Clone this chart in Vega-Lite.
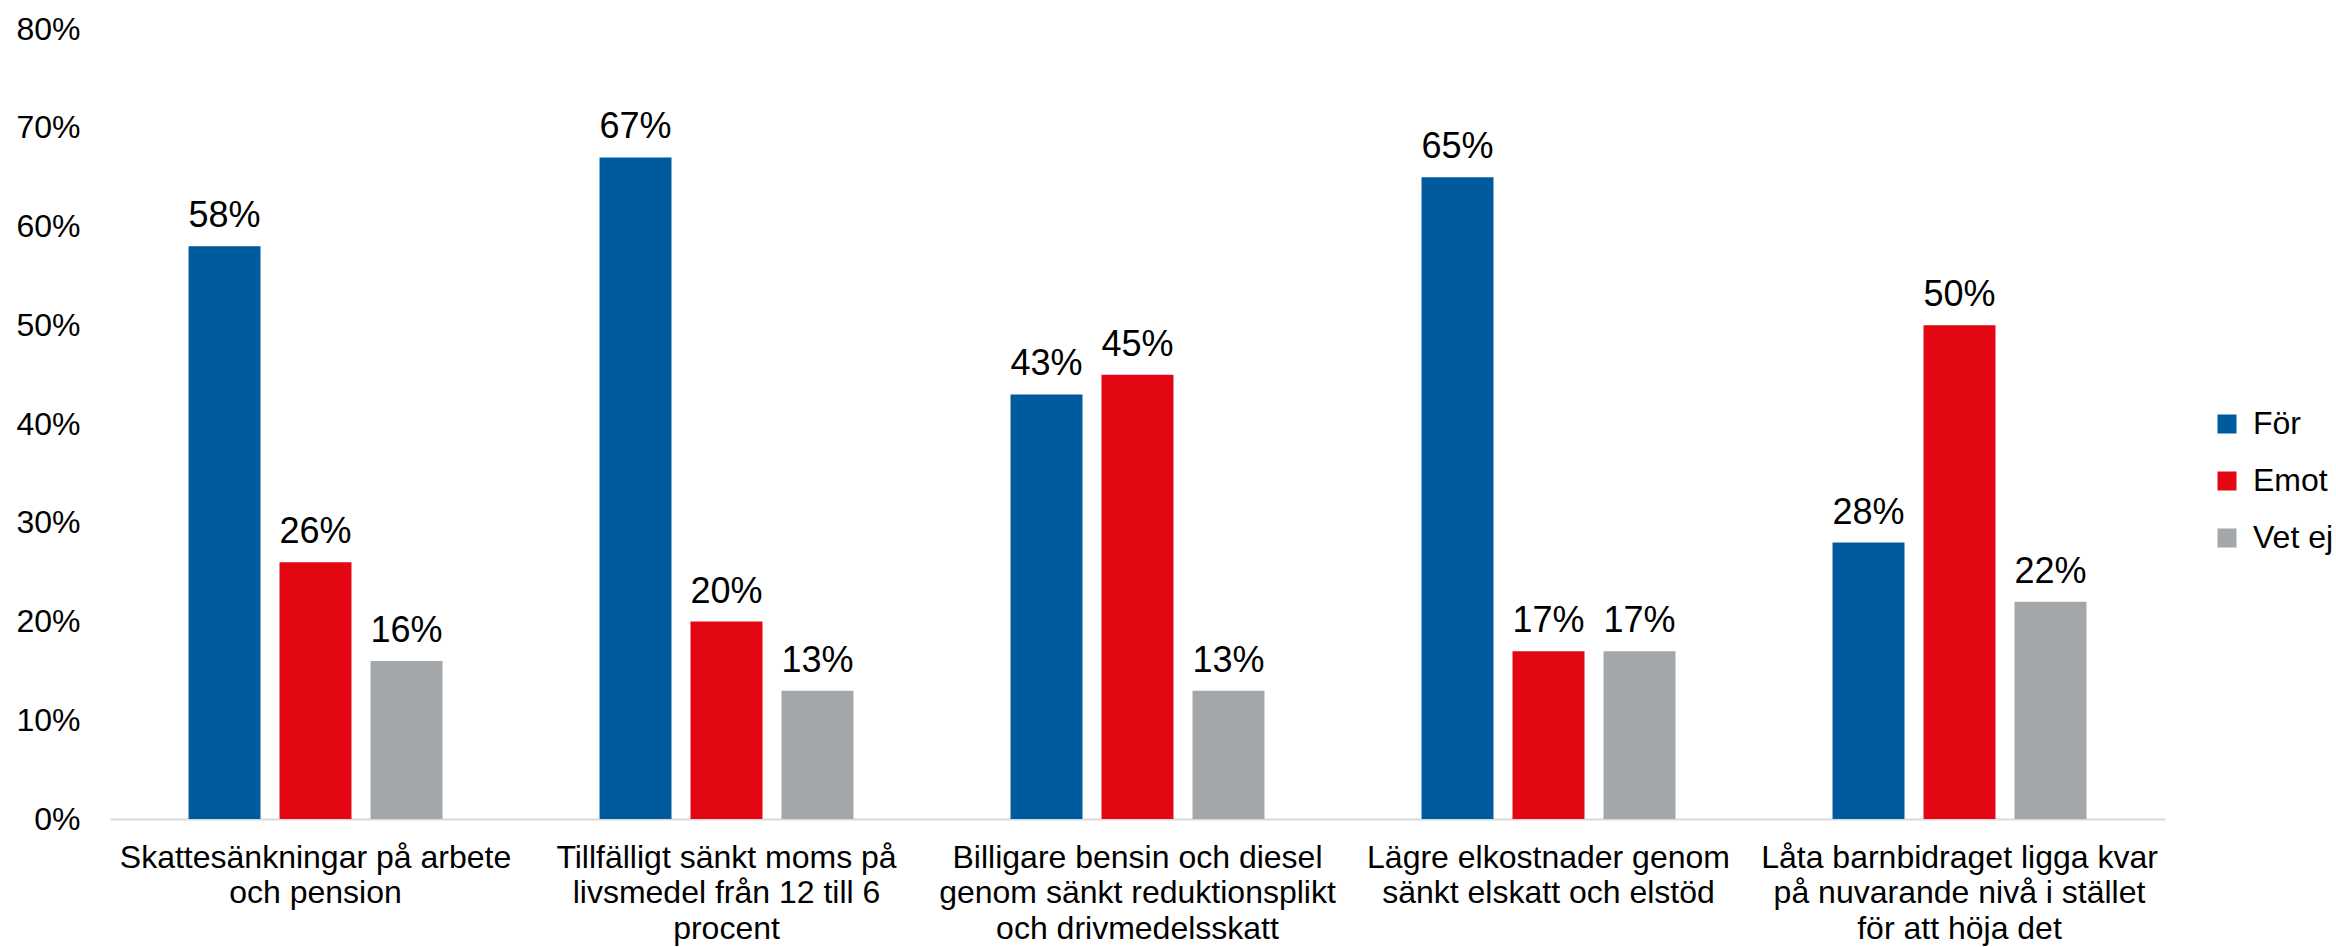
{
  "$schema": "https://vega.github.io/schema/vega-lite/v6.json",
  "width": 2055,
  "height": 790,
  "autosize": {"type": "none"},
  "padding": {"left": 110, "top": 29, "right": 171, "bottom": 128},
  "background": "white",
  "config": {
    "font": "Liberation Sans",
    "view": {"stroke": null}
  },
  "data": {
    "values": [
      {"fraga": "Skattesänkningar på arbete och pension", "svar": "För", "andel": 0.58},
      {"fraga": "Skattesänkningar på arbete och pension", "svar": "Emot", "andel": 0.26},
      {"fraga": "Skattesänkningar på arbete och pension", "svar": "Vet ej", "andel": 0.16},
      {"fraga": "Tillfälligt sänkt moms på livsmedel från 12 till 6 procent", "svar": "För", "andel": 0.67},
      {"fraga": "Tillfälligt sänkt moms på livsmedel från 12 till 6 procent", "svar": "Emot", "andel": 0.20},
      {"fraga": "Tillfälligt sänkt moms på livsmedel från 12 till 6 procent", "svar": "Vet ej", "andel": 0.13},
      {"fraga": "Billigare bensin och diesel genom sänkt reduktionsplikt och drivmedelsskatt", "svar": "För", "andel": 0.43},
      {"fraga": "Billigare bensin och diesel genom sänkt reduktionsplikt och drivmedelsskatt", "svar": "Emot", "andel": 0.45},
      {"fraga": "Billigare bensin och diesel genom sänkt reduktionsplikt och drivmedelsskatt", "svar": "Vet ej", "andel": 0.13},
      {"fraga": "Lägre elkostnader genom sänkt elskatt och elstöd", "svar": "För", "andel": 0.65},
      {"fraga": "Lägre elkostnader genom sänkt elskatt och elstöd", "svar": "Emot", "andel": 0.17},
      {"fraga": "Lägre elkostnader genom sänkt elskatt och elstöd", "svar": "Vet ej", "andel": 0.17},
      {"fraga": "Låta barnbidraget ligga kvar på nuvarande nivå i stället för att höja det", "svar": "För", "andel": 0.28},
      {"fraga": "Låta barnbidraget ligga kvar på nuvarande nivå i stället för att höja det", "svar": "Emot", "andel": 0.50},
      {"fraga": "Låta barnbidraget ligga kvar på nuvarande nivå i stället för att höja det", "svar": "Vet ej", "andel": 0.22}
    ]
  },
  "encoding": {
    "x": {
      "field": "fraga",
      "type": "nominal",
      "sort": null,
      "scale": {"paddingInner": 0, "paddingOuter": 0},
      "axis": {
        "title": null,
        "labelAngle": 0,
        "ticks": false,
        "tickSize": 0,
        "domainColor": "#d9d9d9",
        "domainWidth": 2,
        "labelFontSize": 32,
        "labelLineHeight": 35.5,
        "labelColor": "#000000",
        "labelPadding": 23,
        "labelLimit": 0,
        "labelBaseline": "top",
        "labelExpr": "{'Skattesänkningar på arbete och pension': ['Skattesänkningar på arbete', 'och pension'], 'Tillfälligt sänkt moms på livsmedel från 12 till 6 procent': ['Tillfälligt sänkt moms på', 'livsmedel från 12 till 6', 'procent'], 'Billigare bensin och diesel genom sänkt reduktionsplikt och drivmedelsskatt': ['Billigare bensin och diesel', 'genom sänkt reduktionsplikt', 'och drivmedelsskatt'], 'Lägre elkostnader genom sänkt elskatt och elstöd': ['Lägre elkostnader genom', 'sänkt elskatt och elstöd'], 'Låta barnbidraget ligga kvar på nuvarande nivå i stället för att höja det': ['Låta barnbidraget ligga kvar', 'på nuvarande nivå i stället', 'för att höja det']}[datum.value]"
      }
    },
    "xOffset": {
      "field": "svar",
      "type": "nominal",
      "sort": ["För", "Emot", "Vet ej"],
      "scale": {"paddingInner": 0.209, "paddingOuter": 0.863}
    },
    "y": {
      "field": "andel",
      "type": "quantitative",
      "scale": {"domain": [0, 0.8], "nice": false},
      "axis": {
        "title": null,
        "format": ".0%",
        "values": [0, 0.1, 0.2, 0.3, 0.4, 0.5, 0.6, 0.7, 0.8],
        "grid": false,
        "domain": false,
        "ticks": false,
        "tickSize": 0,
        "labelPadding": 30,
        "labelFontSize": 32,
        "labelColor": "#000000"
      }
    }
  },
  "layer": [
    {
      "mark": {"type": "bar"},
      "encoding": {
        "color": {
          "field": "svar",
          "type": "nominal",
          "sort": ["För", "Emot", "Vet ej"],
          "scale": {"domain": ["För", "Emot", "Vet ej"], "range": ["#005A9E", "#E30613", "#A4A7AA"]},
          "legend": {
            "title": null,
            "orient": "none",
            "legendX": 2101,
            "legendY": 379,
            "symbolType": "square",
            "symbolSize": 361,
            "symbolStrokeWidth": 0,
            "labelFontSize": 32,
            "labelColor": "#000000",
            "labelOffset": 10,
            "rowPadding": 25,
            "padding": 0
          }
        }
      }
    },
    {
      "mark": {"type": "text", "fontSize": 36, "baseline": "alphabetic", "dy": -19, "color": "#000000"},
      "encoding": {
        "text": {"field": "andel", "type": "quantitative", "format": ".0%"}
      }
    }
  ]
}
